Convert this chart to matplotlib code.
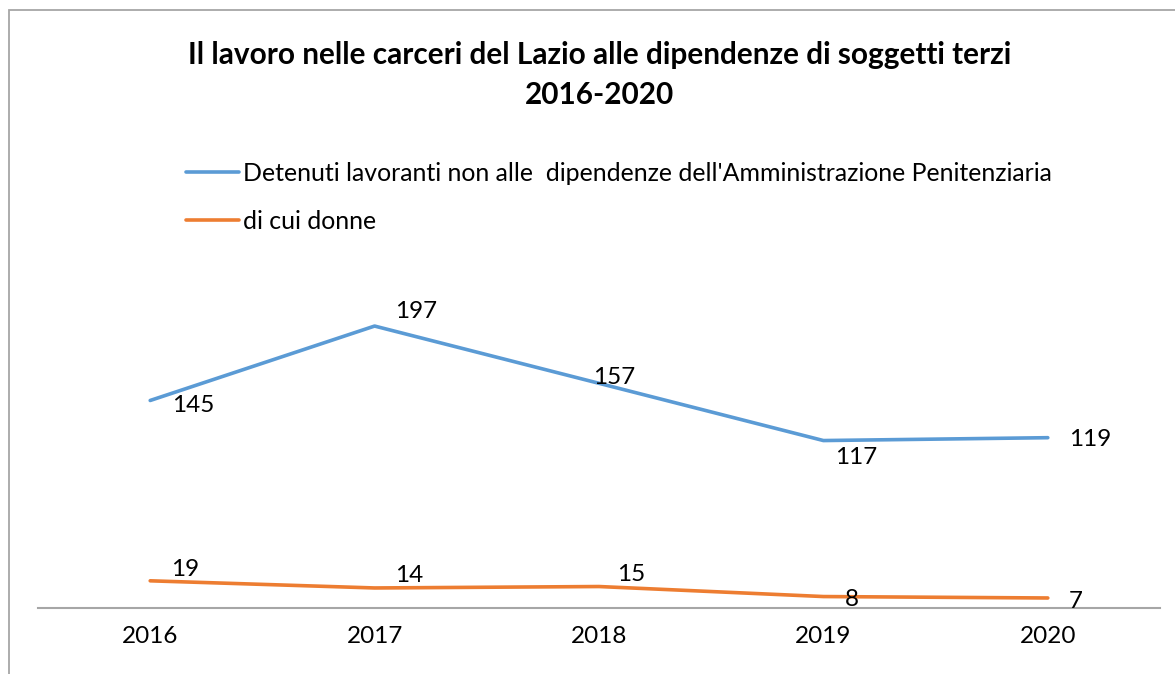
import matplotlib
matplotlib.use("Agg")
import matplotlib.pyplot as plt
from matplotlib.patches import Rectangle

# Data
anni = ["2016", "2017", "2018", "2019", "2020"]
detenuti = [145, 197, 157, 117, 119]
donne = [19, 14, 15, 8, 7]
nome_detenuti = "Detenuti lavoranti non alle  dipendenze dell'Amministrazione Penitenziaria"
nome_donne = "di cui donne"
titolo = "Il lavoro nelle carceri del Lazio alle dipendenze di soggetti terzi\n2016-2020"

# label offsets (pixels) for the data labels
off_detenuti = [(43, -5), (42, 15), (15, 6), (33, -17), (42, -2)]
off_donne = [(35, 11), (35, 12), (32, 12), (28, -3), (28, -4)]

plt.rcParams['font.family'] = ['Lato', 'DejaVu Sans']

W, H = 1175, 674
fig = plt.figure(figsize=(W / 100, H / 100), dpi=100)
fig.patch.set_facecolor('white')

# chart border
fig.add_artist(Rectangle((8.5 / W, -0.1), 1.2, (H - 10) / H + 0.1,
                         transform=fig.transFigure, fill=False,
                         edgecolor='#A6A6A6', linewidth=1.3))

ax = fig.add_axes([38 / W, (H - 608) / H, 1122 / W, 357.8 / H])
x = list(range(len(anni)))
blu = '#5B9BD5'
arancio = '#ED7D31'
l1, = ax.plot(x, detenuti, color=blu, lw=2.6, solid_capstyle='round', label=nome_detenuti)
l2, = ax.plot(x, donne, color=arancio, lw=2.6, solid_capstyle='round', label=nome_donne)

for xi, v, off in zip(x, detenuti, off_detenuti):
    ax.annotate(str(v), (xi, v), xytext=off, textcoords='offset pixels',
                ha='center', va='center', fontsize=17.5)
for xi, v, off in zip(x, donne, off_donne):
    ax.annotate(str(v), (xi, v), xytext=off, textcoords='offset pixels',
                ha='center', va='center', fontsize=17.5)

ax.set_xlim(-0.5, len(anni) - 0.5)
ax.set_ylim(0, 250)
ax.set_xticks(x)
ax.set_xticklabels(anni, fontsize=17.5)
ax.set_yticks([])
ax.tick_params(axis='x', length=0, pad=13)
for s in ['top', 'right', 'left']:
    ax.spines[s].set_visible(False)
ax.spines['bottom'].set_color('#A6A6A6')
ax.spines['bottom'].set_linewidth(1.5)
ax.patch.set_alpha(0)

fig.text(600 / W, 1 - 75 / H, titolo, ha='center', va='center',
         fontsize=21.4, fontweight='bold', linespacing=1.55)

fig.legend(handles=[l1, l2], loc='upper left', bbox_to_anchor=(176 / W, 1 - 152 / H),
           frameon=False, fontsize=17.9, handlelength=2.15, handletextpad=0.15,
           labelspacing=1.0, borderaxespad=0)

fig.savefig('out.png', dpi=100)
